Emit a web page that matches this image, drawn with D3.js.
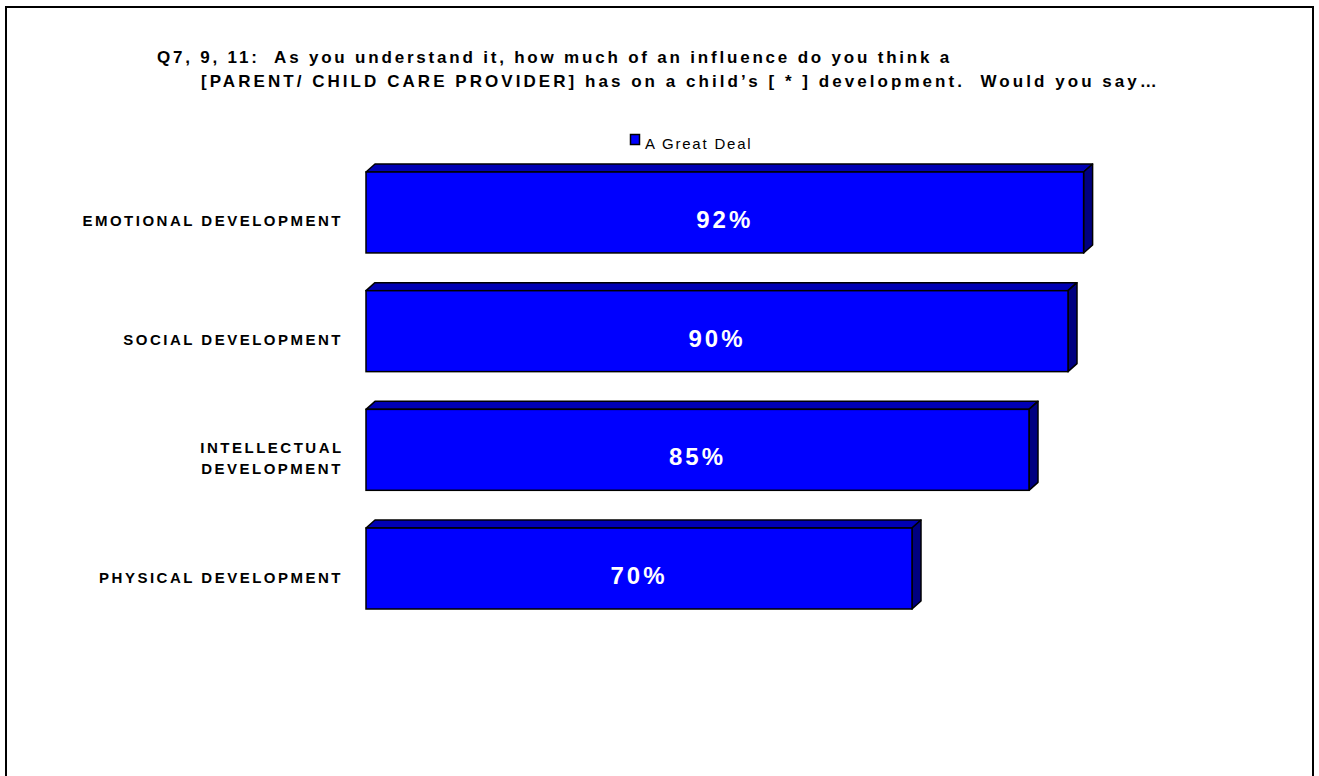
<!DOCTYPE html>
<html>
<head>
<meta charset="utf-8">
<script src="https://cdn.jsdelivr.net/npm/d3@7"></script>
<style>
  html, body { margin: 0; padding: 0; background: #fff; }
  svg { display: block; }
  text { font-family: "Liberation Sans", Arial, Helvetica, sans-serif; white-space: pre; }
</style>
</head>
<body>
<svg id="chart" width="1319" height="776"></svg>
<script>
// Survey results: share answering "A Great Deal"
const categories = ["EMOTIONAL DEVELOPMENT", "SOCIAL DEVELOPMENT", "INTELLECTUAL DEVELOPMENT", "PHYSICAL DEVELOPMENT"];
const categoryLines = [["EMOTIONAL DEVELOPMENT"], ["SOCIAL DEVELOPMENT"], ["INTELLECTUAL", "DEVELOPMENT"], ["PHYSICAL DEVELOPMENT"]];
const greatDeal = [92, 90, 85, 70];
const seriesName = "A Great Deal";
const titleLines = [
  "Q7, 9, 11:  As you understand it, how much of an influence do you think a",
  "[PARENT/ CHILD CARE PROVIDER] has on a child\u2019s [ * ] development.  Would you say\u2026"
];

const svg = d3.select("#chart");

// outer frame
svg.append("rect")
  .attr("x", 6).attr("y", 7)
  .attr("width", 1307).attr("height", 800)
  .attr("fill", "none").attr("stroke", "#000").attr("stroke-width", 2);

// title (two lines, second indented)
const title = svg.append("text")
  .attr("font-weight", "bold").attr("font-size", 17)
  .attr("fill", "#000");
title.append("tspan").attr("x", 157).attr("y", 63)
  .attr("letter-spacing", 2.8).text(titleLines[0]);
title.append("tspan").attr("x", 201).attr("y", 87)
  .attr("letter-spacing", 3.05).text(titleLines[1]);

// legend
svg.append("rect")
  .attr("x", 630.5).attr("y", 134.5).attr("width", 9).attr("height", 10)
  .attr("fill", "#0000FF").attr("stroke", "#000").attr("stroke-width", 1.5);
svg.append("text")
  .attr("x", 645).attr("y", 149)
  .attr("font-size", 15).attr("letter-spacing", 1.8)
  .text(seriesName);

// scales
const x = d3.scaleLinear().domain([0, 100]).range([366, 1146]);
const y = d3.scaleBand().domain(categories).range([172, 609]).paddingInner(0.318).paddingOuter(0);
const dx = 9, dy = 8;

const data = categories.map((c, i) => ({ cat: c, lines: categoryLines[i], value: greatDeal[i] }));

const bars = svg.append("g").selectAll("g").data(data).join("g");

// top face
bars.append("path")
  .attr("d", d => {
    const x0 = x(0), x1 = x(d.value), y0 = y(d.cat);
    return `M${x0},${y0}L${x0 + dx},${y0 - dy}L${x1 + dx},${y0 - dy}L${x1},${y0}Z`;
  })
  .attr("fill", "#0000B4").attr("stroke", "#000").attr("stroke-width", 1.5).attr("stroke-linejoin", "round");

// side face
bars.append("path")
  .attr("d", d => {
    const x1 = x(d.value), y0 = y(d.cat), y1 = y0 + y.bandwidth();
    return `M${x1},${y0}L${x1 + dx},${y0 - dy}L${x1 + dx},${y1 - dy}L${x1},${y1}Z`;
  })
  .attr("fill", "#000080").attr("stroke", "#000").attr("stroke-width", 1.5).attr("stroke-linejoin", "round");

// front face
bars.append("rect")
  .attr("x", x(0))
  .attr("y", d => y(d.cat))
  .attr("width", d => x(d.value) - x(0))
  .attr("height", y.bandwidth())
  .attr("fill", "#0000FF").attr("stroke", "#000").attr("stroke-width", 1.5);

// value labels
bars.append("text")
  .attr("x", d => (x(0) + x(d.value)) / 2)
  .attr("y", d => y(d.cat) + y.bandwidth() / 2 + 15.5)
  .attr("text-anchor", "middle")
  .attr("fill", "#fff").attr("font-weight", "bold")
  .attr("font-size", 24).attr("letter-spacing", 3)
  .text(d => d.value + "%");

// category labels
bars.append("text")
  .attr("font-weight", "bold").attr("font-size", 15).attr("letter-spacing", 2.5)
  .attr("fill", "#000")
  .each(function (d) {
    const t = d3.select(this);
    const cy = y(d.cat) + y.bandwidth() / 2;
    if (d.lines.length === 1) {
      t.append("tspan").attr("x", 343).attr("y", cy + 14)
        .attr("text-anchor", "end").text(d.lines[0]);
    } else {
      d.lines.forEach((ln, i) => {
        t.append("tspan").attr("x", 272).attr("y", cy + 3.5 + i * 21)
          .attr("text-anchor", "middle").text(ln);
      });
    }
  });
</script>
</body>
</html>
